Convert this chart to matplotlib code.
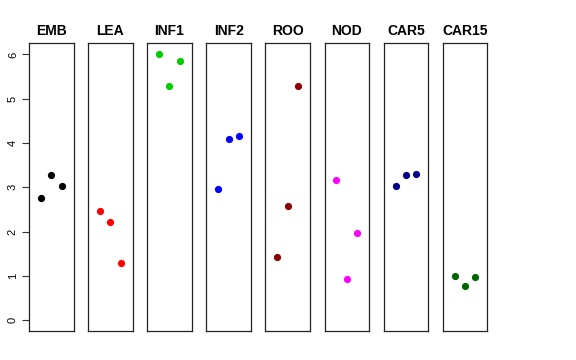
import matplotlib
matplotlib.use("Agg")
import matplotlib.pyplot as plt

plt.rcParams["font.family"] = ["Liberation Sans", "DejaVu Sans"]

names = ["EMB", "LEA", "INF1", "INF2", "ROO", "NOD", "CAR5", "CAR15"]
colors = ["#000000", "#FF0000", "#00CD00", "#0000FF", "#8B0000", "#FF00FF", "#00008B", "#006400"]
xs = [1, 2, 3]
values = [
    [2.75, 3.28, 3.04],
    [2.46, 2.22, 1.29],
    [6.01, 5.29, 5.86],
    [2.97, 4.10, 4.17],
    [1.43, 2.58, 5.28],
    [3.16, 0.94, 1.97],
    [3.02, 3.27, 3.30],
    [1.00, 0.77, 0.98],
]

fig = plt.figure(figsize=(5.76, 3.6), dpi=100)
W, H = 576, 360
top, bottom = 43.3, 331.0
for i, name in enumerate(names):
    left = 29 + i * 59.1
    ax = fig.add_axes([left / W, 1 - bottom / H, 44.5 / W, (bottom - top) / H])
    ax.plot(xs, values[i], "o", color=colors[i], markersize=5.2, markeredgewidth=0)
    ax.set_xlim(-0.16, 4.16)
    ax.set_ylim(-0.24, 6.25)
    ax.set_xticks([])
    for s in ax.spines.values():
        s.set_linewidth(0.9)
        s.set_color("#222222")
    ax.set_title(name, fontsize=10, fontweight="bold", pad=6)
    if i == 0:
        ax.set_yticks(range(7))
        ax.tick_params(axis="y", length=5, width=0.8, labelsize=8, pad=3,
                       labelrotation=90, color="#333333")
        for lab in ax.get_yticklabels():
            lab.set_verticalalignment("center")
    else:
        ax.set_yticks([])

fig.savefig("out.png", dpi=100)
